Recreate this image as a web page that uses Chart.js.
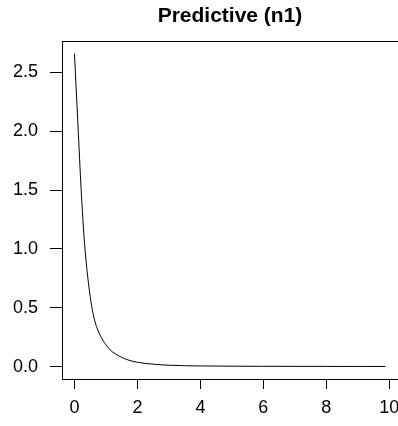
<!DOCTYPE html>
<html>
<head>
<meta charset="utf-8">
<script src="https://cdn.jsdelivr.net/npm/chart.js@4/dist/chart.umd.min.js"></script>
<style>
  html, body { margin: 0; padding: 0; background: #fff; }
  canvas { display: block; }
</style>
</head>
<body>
<canvas id="myChart" width="398" height="426"></canvas>
<script>
// values
const xVals = [0, 0.05, 0.1, 0.15, 0.2, 0.25, 0.3, 0.35, 0.4, 0.45, 0.5, 0.55, 0.6, 0.65, 0.7, 0.8, 0.9, 1.0,
    1.1, 1.2, 1.4, 1.6, 1.8, 2.0, 2.5, 3.0, 3.5, 4.0, 5.0, 6.0, 7.0, 8.0, 9.0, 9.88];
const density = [2.66, 2.39, 2.12, 1.84, 1.57, 1.33, 1.12, 0.955, 0.815, 0.70, 0.595, 0.51, 0.44, 0.385, 0.34, 0.275, 0.225, 0.185,
    0.152, 0.126, 0.092, 0.066, 0.048, 0.036, 0.02, 0.011, 0.007, 0.005, 0.003, 0.002, 0.0015, 0.001, 0.0008, 0.0006];
const xTicks = [0, 2, 4, 6, 8, 10];
const yTicks = [0, 0.5, 1, 1.5, 2, 2.5];
const titleText = 'Predictive (n1)';

Chart.defaults.font.family = '"Liberation Sans", Arial, sans-serif';
Chart.defaults.color = '#000';

// R style box around the plot region
const boxPlugin = {
    id: 'plotBox',
    afterDraw(chart) {
        const a = chart.chartArea;
        const c = chart.ctx;
        c.save();
        c.strokeStyle = '#000';
        c.lineWidth = 1;
        c.strokeRect(Math.round(a.left) + 0.5, Math.round(a.top) + 0.5,
            Math.round(a.right - a.left), Math.round(a.bottom - a.top));
        c.restore();
    }
};

const ctx = document.getElementById('myChart').getContext('2d');
const myChart = new Chart(ctx, {
    type: 'line',
    data: {
        datasets: [{
            data: xVals.map((x, i) => ({ x: x, y: density[i] })),
            borderColor: '#000',
            borderWidth: 1,
            pointRadius: 0,
            cubicInterpolationMode: 'monotone',
            fill: false
        }]
    },
    options: {
        responsive: false,
        devicePixelRatio: 1,
        animation: false,
        layout: { padding: { left: 0, right: 0, top: 0, bottom: 0 } },
        plugins: {
            legend: { display: false },
            tooltip: { enabled: false },
            title: {
                display: true,
                text: titleText,
                fullSize: false,
                font: { size: 21, weight: 'bold' },
                padding: { top: 4, bottom: 12 }
            }
        },
        scales: {
            x: {
                type: 'linear',
                min: -0.395,
                max: 10.275,
                afterBuildTicks: scale => { scale.ticks = xTicks.map(v => ({ value: v })); },
                afterFit: scale => { scale.height = 47; scale.paddingLeft = 0; scale.paddingRight = 0; },
                ticks: {
                    font: { size: 18 },
                    padding: 8,
                    maxRotation: 0,
                    callback: v => String(v)
                },
                grid: { drawOnChartArea: false, drawTicks: true, tickLength: 10, color: '#000' },
                border: { display: true, color: '#000' }
            },
            y: {
                type: 'linear',
                min: -0.106,
                max: 2.766,
                afterBuildTicks: scale => { scale.ticks = yTicks.map(v => ({ value: v })); },
                afterFit: scale => { scale.width = 62; scale.paddingTop = 0; scale.paddingBottom = 0; },
                ticks: {
                    font: { size: 18 },
                    padding: 12,
                    callback: v => v.toFixed(1)
                },
                grid: { drawOnChartArea: false, drawTicks: true, tickLength: 12, color: '#000' },
                border: { display: true, color: '#000' }
            }
        }
    },
    plugins: [boxPlugin]
});
</script>
</body>
</html>
